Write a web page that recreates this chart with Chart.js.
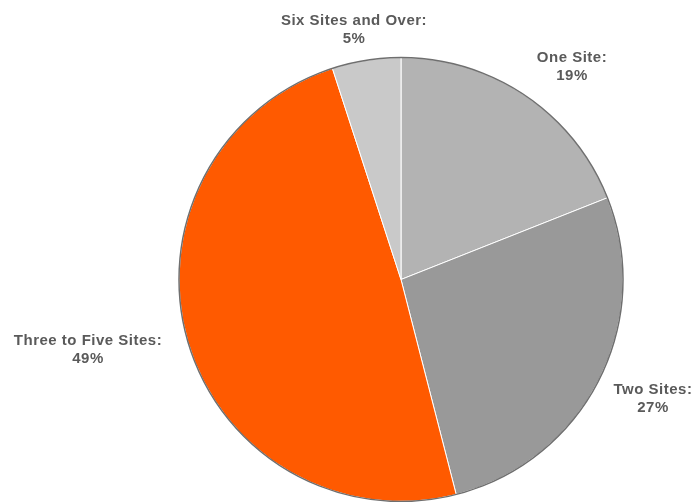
<!DOCTYPE html>
<html>
<head>
<meta charset="utf-8">
<script src="https://cdn.jsdelivr.net/npm/chart.js@4"></script>
<style>
  html, body { margin: 0; padding: 0; background: #fff; }
  #wrap { width: 696px; height: 502px; position: relative; }
</style>
</head>
<body>
<div id="wrap"><canvas id="pie"></canvas></div>
<script>
// data
const categories = ['One Site', 'Two Sites', 'Three to Five Sites', 'Six Sites and Over'];
const shares     = [19, 27, 49, 5];
const colors     = ['#b3b3b3', '#999999', '#ff5a00', '#c9c9c9'];

// label anchors, px offset from pie centre (line 1 middle)
const labelPos = [[171, -222], [252, 110], [-313, 61], [-47, -259]];

const pieFrame = {
  id: 'pieFrame',
  afterDatasetsDraw(chart) {
    const arc = chart.getDatasetMeta(0).data[0]; if (!arc) return;
    const ctx = chart.ctx;
    ctx.save();
    ctx.beginPath();
    ctx.arc(arc.x, arc.y, arc.outerRadius, 0, Math.PI * 2);
    ctx.strokeStyle = '#6f6f6f';
    ctx.lineWidth = 1.5;
    ctx.stroke();
    ctx.font = 'bold 15px "Liberation Sans", Arial, sans-serif';
    ctx.letterSpacing = '0.5px';
    ctx.fillStyle = '#5a5a5a';
    ctx.textAlign = 'center';
    ctx.textBaseline = 'middle';
    categories.forEach((c, i) => {
      const [dx, dy] = labelPos[i];
      ctx.fillText(c + ':', arc.x + dx, arc.y + dy);
      ctx.fillText(shares[i] + '%', arc.x + dx, arc.y + dy + 18);
    });
    ctx.restore();
  }
};

new Chart(document.getElementById('pie'), {
  type: 'pie',
  data: {
    labels: categories,
    datasets: [{
      data: shares,
      backgroundColor: colors,
      borderColor: '#ffffff',
      borderWidth: 1,
      hoverOffset: 0
    }]
  },
  options: {
    responsive: true, maintainAspectRatio: false, animation: false,
    layout: { padding: { top: 57, bottom: 0, left: 178, right: 72 } },
    plugins: { legend: { display: false }, tooltip: { enabled: false } }
  },
  plugins: [pieFrame]
});
</script>
</body>
</html>
